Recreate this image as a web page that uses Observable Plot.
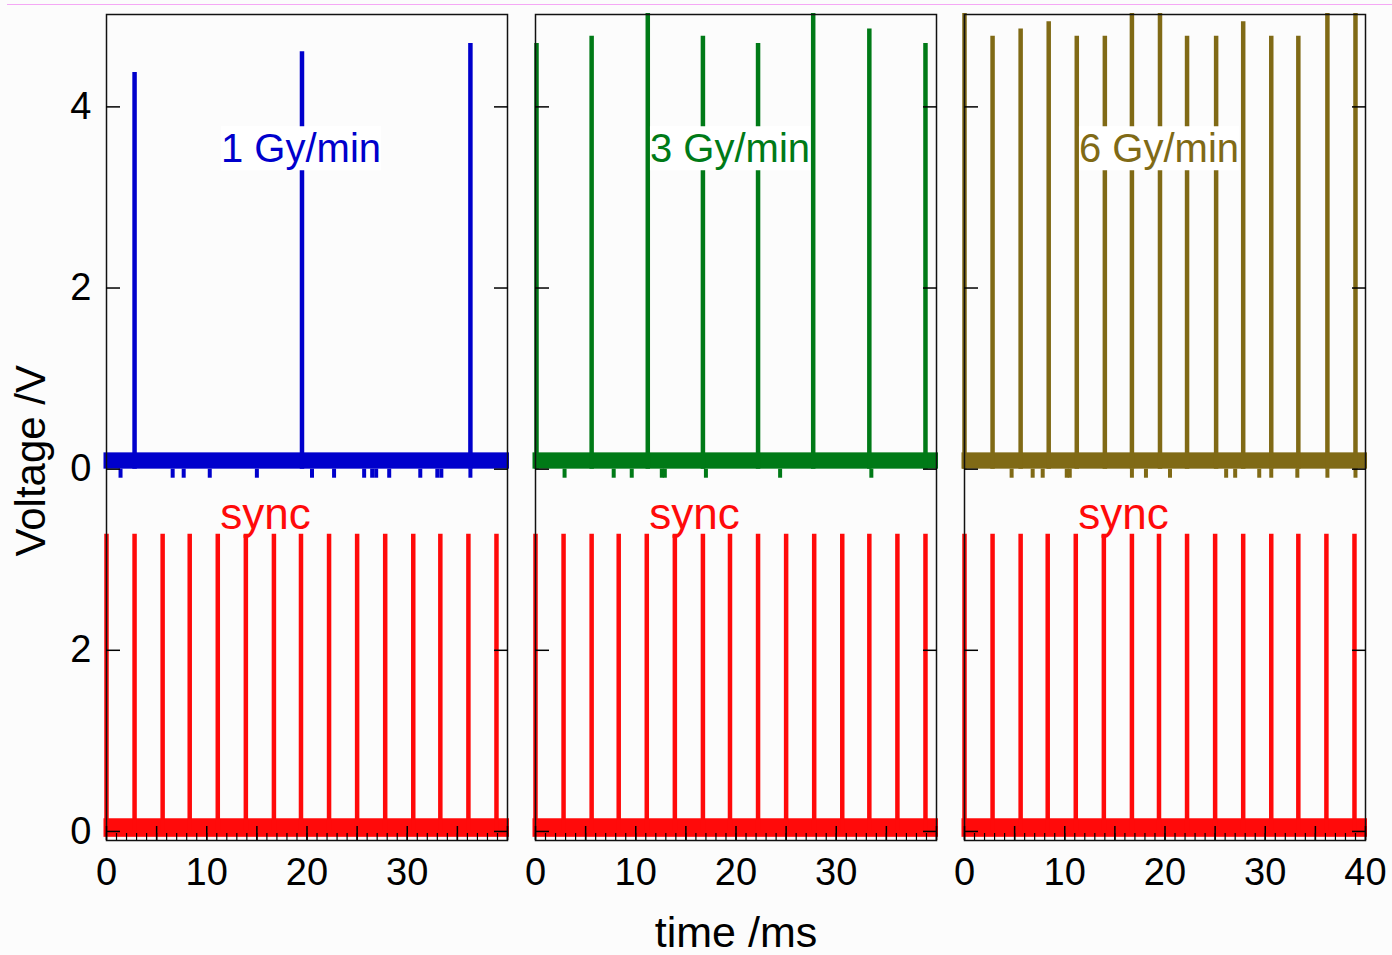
<!DOCTYPE html>
<html>
<head>
<meta charset="utf-8">
<script src="https://cdn.jsdelivr.net/npm/d3@7"></script>
<script src="https://cdn.jsdelivr.net/npm/@observablehq/plot@0.6"></script>
<style>
  body { margin: 0; background: #fcfcfc; }
  #wrap { position: relative; width: 1392px; height: 955px; }
  #pink { position: absolute; left: 7px; right: 0; top: 4px; height: 1px; background: #f5a8f5; }
  #chart { position: absolute; left: 0; top: 0; }
</style>
</head>
<body>
<div id="wrap"><div id="pink"></div><div id="chart"></div></div>
<script>
// ---- categories / series ----
const rates = ["1 Gy/min", "3 Gy/min", "6 Gy/min"];
const seriesNames = ["1 Gy/min", "3 Gy/min", "6 Gy/min", "sync"];
const seriesColors = ["#0000cc", "#007a17", "#806a16", "#ff0a0a"];

// dose-rate detector pulses (time in ms, peak in V)
const pulseTimes1 = [2.8, 19.5, 36.3];
const pulsePeaks1 = [4.38, 4.61, 4.70];
const pulseTimes3 = [0.1, 5.6, 11.2, 16.7, 22.2, 27.7, 33.3, 38.9];
const pulsePeaks3 = [4.70, 4.78, 5.03, 4.78, 4.70, 5.03, 4.86, 4.70];
const pulseTimes6 = [0.0, 2.8, 5.6, 8.4, 11.2, 14.0, 16.7, 19.5, 22.2, 25.1, 27.8, 30.6, 33.3, 36.2, 39.0];
const pulsePeaks6 = [5.03, 4.78, 4.86, 4.94, 4.78, 4.78, 5.03, 5.03, 4.78, 4.78, 4.94, 4.78, 4.78, 5.03, 5.03];

// sync pulses (same in every panel)
const syncTimes = [0.0, 2.8, 5.6, 8.3, 11.1, 13.9, 16.7, 19.4, 22.2, 25.0, 27.8, 30.6, 33.3, 36.1, 38.9];
const syncPeak = 3.28;

// baseline noise band
const recStart = -0.25, recEnd = 40.2;
const noiseLow = 0.0, noiseHigh = 0.18;
const syncNoiseLow = -0.065, syncNoiseHigh = 0.14;
const notchDepth = -0.1;
const notchTimes1 = [1.4, 6.6, 7.7, 10.3, 15.0, 20.5, 22.7, 25.7, 26.5, 26.9, 28.2, 31.3, 33.0, 33.4, 36.3];
const notchTimes3 = [2.9, 7.8, 9.6, 12.6, 12.9, 17.0, 24.4, 33.5];
const notchTimes6 = [4.7, 6.8, 7.8, 10.2, 10.5, 16.7, 18.1, 20.5, 26.1, 27.0, 29.4, 30.6, 33.2, 36.2, 39.0];

// the detector trace is drawn 4 V above the sync trace
const topOffset = 4;

// annotations
const rateLabelT = 19.4, rateLabelV = 3.53;
const syncLabelT = 15.85, syncLabelV = 3.5;

// axis ticks
const yTicks = [0, 2, 4, 6, 8];
const yTickLabels = ["0", "2", "0", "2", "4"];
const xMajor = [0, 5, 10, 15, 20, 25, 30, 35, 40];
const xMinor = d3.range(0, 41, 1);
const xLabelled = [0, 10, 20, 30];
const xLabelledLast = [40];

// ---- tables ----
const pulseSets = [[pulseTimes1, pulsePeaks1], [pulseTimes3, pulsePeaks3], [pulseTimes6, pulsePeaks6]];
const pulses = pulseSets.flatMap(([T, P], i) => T.map((t, j) => ({rate: rates[i], series: rates[i], t, v: P[j]})));
const syncRows = rates.flatMap(rate => syncTimes.map(t => ({rate, series: "sync", t, v: syncPeak})));
const bandRows = rates.flatMap(rate => [
  {rate, series: rate, t0: recStart, t1: recEnd, lo: topOffset + noiseLow, hi: topOffset + noiseHigh},
  {rate, series: "sync", t0: recStart, t1: recEnd, lo: syncNoiseLow, hi: syncNoiseHigh}
]);
const notchSets = [notchTimes1, notchTimes3, notchTimes6];
const notchRows = notchSets.flatMap((T, i) => T.map(t => ({rate: rates[i], series: rates[i], t})));
const rateLabels = rates.map(rate => ({rate, series: rate, t: rateLabelT, y: topOffset + rateLabelV, label: rate}));
const syncLabels = rates.map(rate => ({rate, series: "sync", t: syncLabelT, y: syncLabelV, label: "sync"}));

const font = "'Liberation Sans', Arial, Helvetica, sans-serif";

const fig = Plot.plot({
  width: 1392,
  height: 955,
  marginTop: 14,
  marginBottom: 115,
  marginLeft: 105,
  marginRight: 26,
  style: {fontFamily: font, background: "transparent", overflow: "visible", color: "#000"},
  fx: {domain: rates, axis: null, padding: 0.066},
  x: {domain: [0, 40]},
  y: {domain: [-0.1, 9.02]},
  color: {type: "ordinal", domain: seriesNames, range: seriesColors},
  marks: [
    Plot.rect(bandRows, {fx: "rate", x1: "t0", x2: "t1", y1: "lo", y2: "hi", fill: "series"}),
    Plot.ruleX(notchRows, {fx: "rate", x: "t", y1: topOffset, y2: topOffset + notchDepth, stroke: "series", strokeWidth: 4}),
    Plot.ruleX(pulses, {fx: "rate", x: "t", y1: topOffset, y2: d => topOffset + d.v, stroke: "series", strokeWidth: 4.5}),
    Plot.ruleX(syncRows, {fx: "rate", x: "t", y1: 0, y2: "v", stroke: "series", strokeWidth: 4.5}),
    Plot.text(rateLabels, {fx: "rate", x: "t", y: "y", text: "label", fill: "series", fontSize: 40, lineAnchor: "middle"}),
    Plot.text(syncLabels, {fx: "rate", x: "t", y: "y", text: "label", fill: "series", fontSize: 44, lineAnchor: "middle"}),
    Plot.frame({stroke: "#111", strokeWidth: 1.5}),
    // inward ticks
    Plot.axisY({anchor: "left", ticks: yTicks, tickSize: -14, tickFormat: () => "", label: null, facetAnchor: null, strokeWidth: 1.5}),
    Plot.axisY({anchor: "right", ticks: yTicks, tickSize: -14, tickFormat: () => "", label: null, facetAnchor: null, strokeWidth: 1.5}),
    Plot.axisX({anchor: "bottom", ticks: xMinor, tickSize: -7, tickFormat: () => "", label: null, strokeWidth: 1.2}),
    Plot.axisX({anchor: "bottom", ticks: xMajor, tickSize: -14, tickFormat: () => "", label: null, strokeWidth: 1.5}),
    // tick labels
    Plot.axisY({anchor: "left", ticks: yTicks, tickSize: 0, tickPadding: 15, tickFormat: d => yTickLabels[yTicks.indexOf(d)], label: null, fontSize: 38}),
    Plot.axisX({anchor: "bottom", ticks: xLabelled, tickSize: 0, tickPadding: 18, tickFormat: d => String(d), label: null, fontSize: 38}),
    Plot.axisX({anchor: "bottom", ticks: xLabelledLast, tickSize: 0, tickPadding: 18, tickFormat: d => String(d), label: null, fontSize: 38, facetAnchor: "right"}),
    // axis titles
    Plot.text([{rate: rates[0], label: "Voltage /V"}], {fx: "rate", text: "label", frameAnchor: "left", dx: -75, dy: 129, rotate: -90, fontSize: 42, lineAnchor: "middle"}),
    Plot.text([{rate: rates[1], label: "time /ms"}], {fx: "rate", text: "label", frameAnchor: "bottom", dy: 93, fontSize: 43, lineAnchor: "middle"})
  ]
});
document.getElementById("chart").append(fig);

// white boxes behind the dose-rate labels
fig.querySelectorAll("text").forEach(t => {
  if (!/Gy\/min/.test(t.textContent)) return;
  const b = t.getBBox();
  const r = document.createElementNS("http://www.w3.org/2000/svg", "rect");
  r.setAttribute("x", b.x);
  r.setAttribute("y", b.y);
  r.setAttribute("width", b.width);
  r.setAttribute("height", b.height);
  r.setAttribute("fill", "#ffffff");
  r.setAttribute("stroke", "none");
  if (t.getAttribute("transform")) r.setAttribute("transform", t.getAttribute("transform"));
  t.parentNode.insertBefore(r, t);
});
</script>
</body>
</html>
